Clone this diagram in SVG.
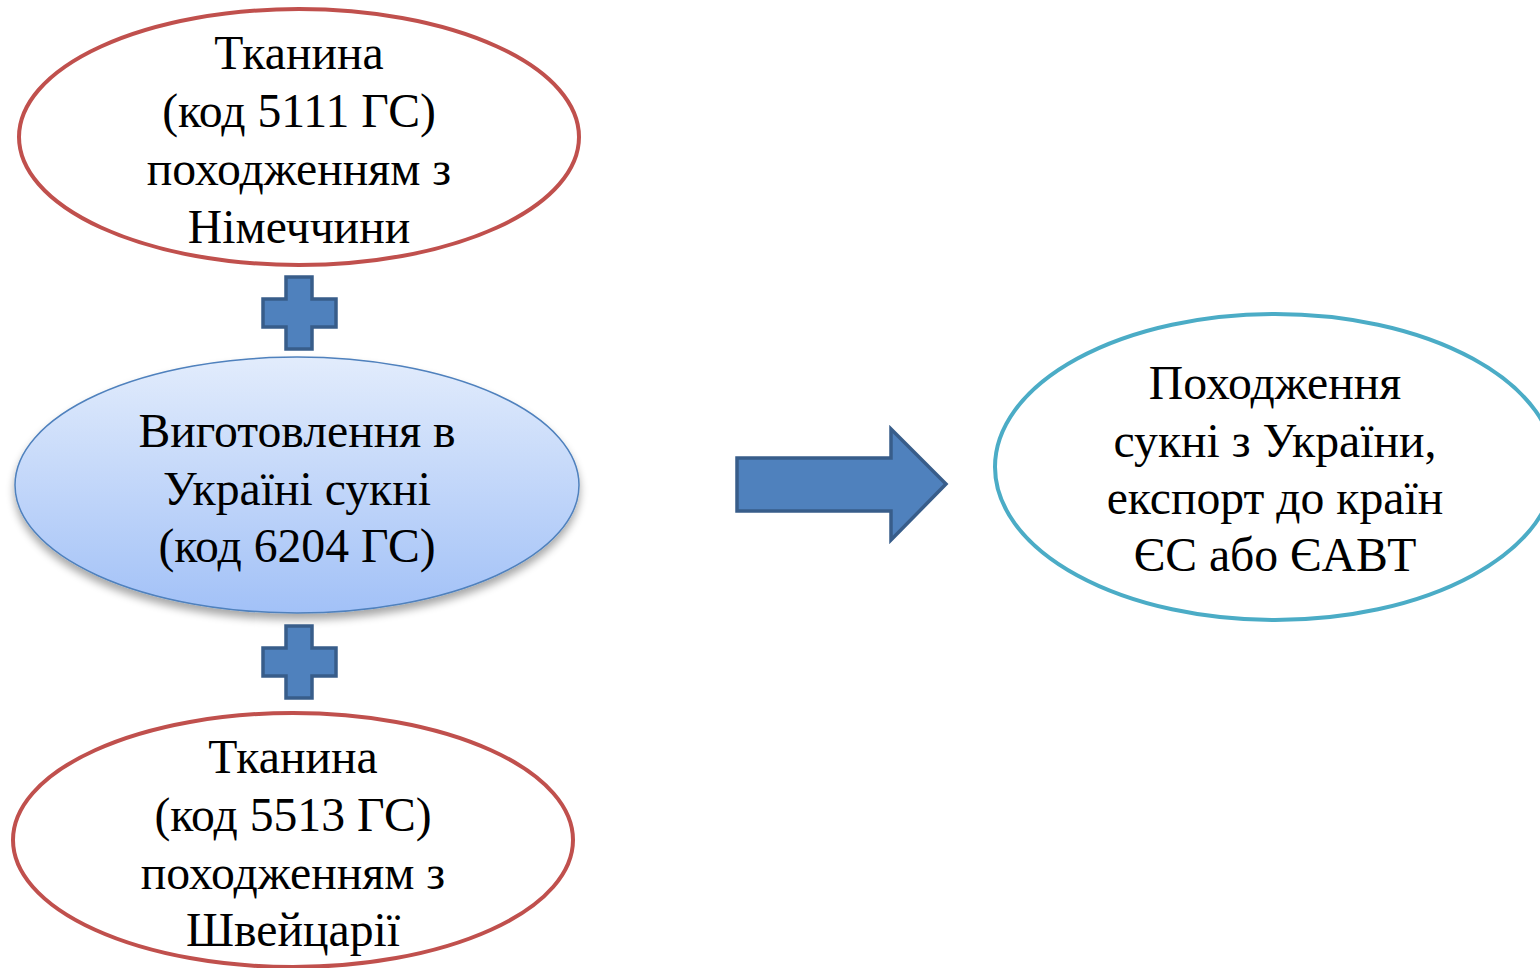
<svg xmlns="http://www.w3.org/2000/svg" width="1540" height="968" viewBox="0 0 1540 968">
<defs>
<linearGradient id="g1" x1="0" y1="0" x2="0" y2="1">
<stop offset="0" stop-color="#E2ECFC"/>
<stop offset="1" stop-color="#A2C1F7"/>
</linearGradient>
<filter id="sh" x="-10%" y="-10%" width="120%" height="130%">
<feGaussianBlur in="SourceAlpha" stdDeviation="4"/>
<feOffset dx="0" dy="6" result="b"/>
<feComponentTransfer><feFuncA type="linear" slope="0.35"/></feComponentTransfer>
<feMerge><feMergeNode/><feMergeNode in="SourceGraphic"/></feMerge>
</filter>
</defs>
<style>
.t{font-family:"Liberation Serif","Times New Roman",serif;font-size:47.7px;fill:#000;text-anchor:middle}
.red{fill:#fff;stroke:#C0504D;stroke-width:4}
.teal{fill:#fff;stroke:#4BACC6;stroke-width:4}
.sym{fill:#4F81BD;stroke:#385D8A;stroke-width:3.5;stroke-linejoin:miter}
</style>
<rect width="1540" height="968" fill="#fff"/>
<g id="n1">
<ellipse class="red" cx="299" cy="137" rx="280" ry="128"/>
<text class="t" x="299" y="69">Тканина</text>
<text class="t" x="299" y="127">(код 5111 ГС)</text>
<text class="t" x="299" y="185">походженням з</text>
<text class="t" x="299" y="243">Німеччини</text>
</g>
<g id="n2">
<ellipse cx="297" cy="485" rx="282" ry="128" fill="url(#g1)" stroke="#4F81BD" stroke-width="1.5" filter="url(#sh)"/>
<text class="t" x="297" y="447">Виготовлення в</text>
<text class="t" x="297" y="505">Україні сукні</text>
<text class="t" x="297" y="562">(код 6204 ГС)</text>
</g>
<g id="n3">
<ellipse class="red" cx="293" cy="840" rx="280" ry="127"/>
<text class="t" x="293" y="773">Тканина</text>
<text class="t" x="293" y="831">(код 5513 ГС)</text>
<text class="t" x="293" y="889">походженням з</text>
<text class="t" x="293" y="946">Швейцарії</text>
</g>
<g id="n4">
<ellipse class="teal" cx="1275" cy="467" rx="280" ry="153"/>
<text class="t" x="1275" y="399">Походження</text>
<text class="t" x="1275" y="457">сукні з України,</text>
<text class="t" x="1275" y="514">експорт до країн</text>
<text class="t" x="1275" y="571">ЄС або ЄАВТ</text>
</g>
<g id="plus1">
<path class="sym" d="M286,277 H312 V299 H336 V327 H312 V349 H286 V327 H263 V299 H286 Z"/>
</g>
<g id="plus2">
<path class="sym" d="M286,626 H312 V648 H336 V676 H312 V698 H286 V676 H263 V648 H286 Z"/>
</g>
<g id="connectors">
<path class="sym" d="M737,458 H891 V429 L946,484 L891,540 V511 H737 Z"/>
</g>
</svg>
